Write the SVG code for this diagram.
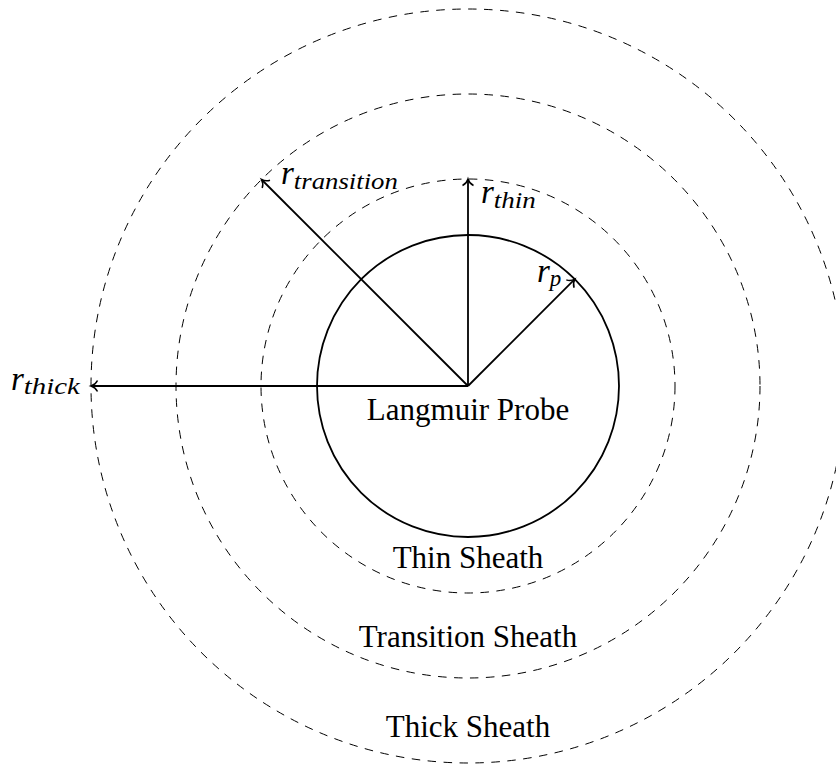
<svg xmlns="http://www.w3.org/2000/svg" width="836" height="766" viewBox="0 0 836 766">
<style>
.bg{fill:#fff}
.probe{fill:none;stroke:#000;stroke-width:1.8}
.sheath{fill:none;stroke:#000;stroke-width:1;stroke-dasharray:8.5 7.5}
.arrow{fill:none;stroke:#000;stroke-width:1.8;marker-end:url(#to)}
.lbl{font-family:"Liberation Serif","Times New Roman",serif;font-size:31px;fill:#000;text-anchor:middle}
.m{font-family:"Liberation Serif","Times New Roman",serif;font-style:italic;fill:#000}
.mr{font-size:33px}
.ms{font-size:23px}
</style>
<defs>
<marker id="to" markerUnits="userSpaceOnUse" markerWidth="16" markerHeight="16" viewBox="-8 -8 16 16" refX="0" refY="0" orient="auto">
<path d="M -6.5,-5.5 C -5,-2.4 -2.2,-0.7 0,0 C -2.2,0.7 -5,2.4 -6.5,5.5" fill="none" stroke="#000" stroke-width="1.5"/>
</marker>
</defs>
<rect class="bg" x="0" y="0" width="836" height="766"/>
<g id="thick-sheath">
<circle class="sheath" cx="468" cy="386" r="377"/>
<text class="lbl" x="468" y="737">Thick Sheath</text>
</g>
<g id="transition-sheath">
<circle class="sheath" cx="468" cy="386" r="292"/>
<text class="lbl" x="468" y="647">Transition Sheath</text>
</g>
<g id="thin-sheath">
<circle class="sheath" cx="468" cy="386" r="207"/>
<text class="lbl" x="468" y="568">Thin Sheath</text>
</g>
<g id="probe">
<circle class="probe" cx="468" cy="386" r="151"/>
<text class="lbl" x="468" y="420">Langmuir Probe</text>
</g>
<g id="connectors">
<line class="arrow" x1="468" y1="386" x2="91" y2="386"/>
<line class="arrow" x1="468" y1="386" x2="468" y2="179"/>
<line class="arrow" x1="468" y1="386" x2="261.5" y2="179.5"/>
<line class="arrow" x1="468" y1="386" x2="574.8" y2="279.2"/>
</g>
<g id="labels">
<text class="m" x="281" y="184"><tspan class="mr">r</tspan><tspan class="ms" dy="5" textLength="104" lengthAdjust="spacingAndGlyphs">transition</tspan></text>
<text class="m" x="481" y="203"><tspan class="mr">r</tspan><tspan class="ms" dy="5" textLength="42" lengthAdjust="spacingAndGlyphs">thin</tspan></text>
<text class="m" x="11" y="390"><tspan class="mr">r</tspan><tspan class="ms" dy="4" textLength="56" lengthAdjust="spacingAndGlyphs">thick</tspan></text>
<text class="m" x="537" y="282"><tspan class="mr">r</tspan><tspan class="ms" dy="4">p</tspan></text>
</g>
</svg>
